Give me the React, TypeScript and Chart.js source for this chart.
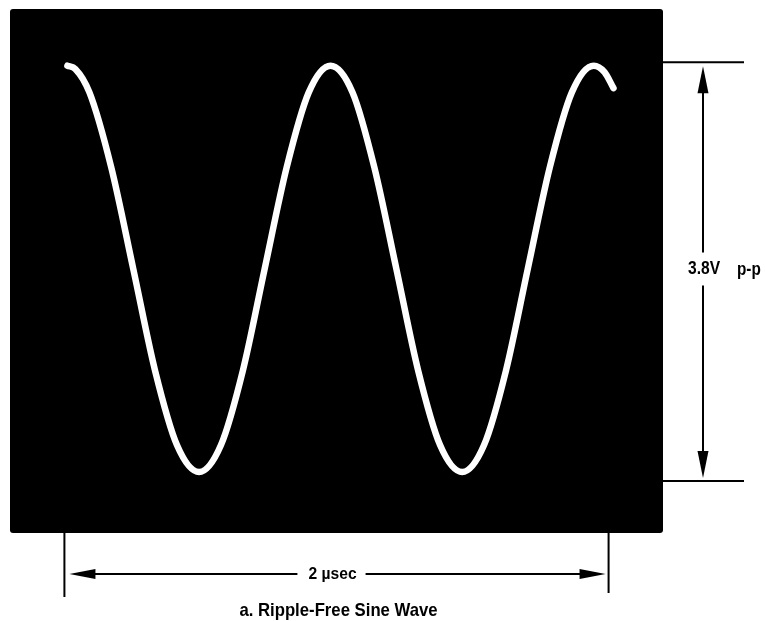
import { useEffect, useRef } from "react";
import { Chart, registerables } from "chart.js";

Chart.register(...registerables);

// Trace samples: time in µs, voltage in V
const timeUs = [
  0.011, 0.04, 0.092, 0.172, 0.253, 0.333, 0.414, 0.495, 0.575, 0.656, 0.736,
  0.817, 0.898, 0.978, 1.059, 1.139, 1.22, 1.3, 1.381, 1.462, 1.542,
  1.623, 1.703, 1.784, 1.865, 1.945, 1.985, 2.018,
];
const voltage = [
  1.9, 1.87, 1.65, 0.95, 0.0, -0.95, -1.65, -1.9, -1.65, -0.95, 0.0,
  0.95, 1.65, 1.9, 1.65, 0.95, 0.0, -0.95, -1.65, -1.9, -1.65,
  -0.95, 0.0, 0.95, 1.65, 1.9, 1.84, 1.69,
];

// Screen (graticule) range
const screenTime = [-0.2, 2.2];
const screenVolts = [-2.47, 2.43];

// Dimension annotations
const spanTime = [0, 2];
const spanLabel = "2 µsec";
const ppVolts = [1.9, -1.9];
const ppValue = "3.8V";
const ppUnit = "p-p";
const caption = "a. Ripple-Free Sine Wave";

const FONT_STACK = '"Liberation Sans", Arial, sans-serif';

function arrowHead(ctx: CanvasRenderingContext2D, tx: number, ty: number, dx: number, dy: number, len: number, hw: number) {
  const bx = tx - dx * len;
  const by = ty - dy * len;
  const px = -dy;
  const py = dx;
  ctx.beginPath();
  ctx.moveTo(tx, ty);
  ctx.lineTo(bx + px * hw, by + py * hw);
  ctx.lineTo(bx - px * hw, by - py * hw);
  ctx.closePath();
  ctx.fill();
}

function condensedText(
  ctx: CanvasRenderingContext2D,
  text: string,
  x: number,
  y: number,
  align: "left" | "center",
  factor: number
) {
  const w = ctx.measureText(text).width * factor;
  const startX = align === "center" ? x - w / 2 : x;
  ctx.save();
  ctx.translate(startX, y);
  ctx.scale(factor, 1);
  ctx.textAlign = "left";
  ctx.textBaseline = "middle";
  ctx.fillText(text, 0, 0);
  ctx.restore();
  return w;
}

const scopePlugin = {
  id: "scopeDecor",
  beforeDatasetsDraw(chart: any) {
    const { ctx, chartArea } = chart;
    const { left, top, right, bottom } = chartArea;
    ctx.save();
    ctx.fillStyle = "#000";
    ctx.beginPath();
    const r = 3;
    ctx.moveTo(left + r, top);
    ctx.lineTo(right - r, top);
    ctx.quadraticCurveTo(right, top, right, top + r);
    ctx.lineTo(right, bottom - r);
    ctx.quadraticCurveTo(right, bottom, right - r, bottom);
    ctx.lineTo(left + r, bottom);
    ctx.quadraticCurveTo(left, bottom, left, bottom - r);
    ctx.lineTo(left, top + r);
    ctx.quadraticCurveTo(left, top, left + r, top);
    ctx.closePath();
    ctx.fill();
    ctx.restore();
  },
  afterDraw(chart: any) {
    const { ctx, chartArea, scales } = chart;
    const xS = scales.x;
    const yS = scales.y;
    ctx.save();
    ctx.strokeStyle = "#000";
    ctx.fillStyle = "#000";
    ctx.lineWidth = 2;

    // ---- vertical (p-p) dimension ----
    const yTop = yS.getPixelForValue(ppVolts[0]) - 3.5;
    const yBot = yS.getPixelForValue(ppVolts[1]) + 9;
    const lineEnd = chartArea.right + 81;
    ctx.beginPath();
    ctx.moveTo(chartArea.right, yTop);
    ctx.lineTo(lineEnd, yTop);
    ctx.moveTo(chartArea.right, yBot);
    ctx.lineTo(lineEnd, yBot);
    ctx.stroke();

    const ax = chartArea.right + 40;
    const tipTop = yTop + 4;
    const tipBot = yBot - 3;
    const midY = (yTop + yBot) / 2 - 3;
    ctx.beginPath();
    ctx.moveTo(ax, tipTop + 10);
    ctx.lineTo(ax, midY - 16);
    ctx.moveTo(ax, midY + 17);
    ctx.lineTo(ax, tipBot - 10);
    ctx.stroke();
    arrowHead(ctx, ax, tipTop, 0, -1, 27, 5.5);
    arrowHead(ctx, ax, tipBot, 0, 1, 27, 5.5);

    ctx.font = "bold 19px " + FONT_STACK;
    condensedText(ctx, ppValue, ax + 1, midY, "center", 0.82);
    ctx.font = "bold 18px " + FONT_STACK;
    condensedText(ctx, ppUnit, ax + 34, midY + 1, "left", 0.85);

    // ---- horizontal (time) dimension ----
    const x0 = xS.getPixelForValue(spanTime[0]);
    const x1 = xS.getPixelForValue(spanTime[1]);
    const hy = chartArea.bottom + 41;
    ctx.beginPath();
    ctx.moveTo(x0, chartArea.bottom);
    ctx.lineTo(x0, chartArea.bottom + 64);
    ctx.moveTo(x1, chartArea.bottom);
    ctx.lineTo(x1, chartArea.bottom + 60);
    ctx.stroke();

    ctx.font = "bold 17px " + FONT_STACK;
    const tx = (x0 + x1) / 2 - 4;
    const tw = ctx.measureText(spanLabel).width * 0.92;
    const tipL = x0 + 5;
    const tipR = x1 - 3;
    ctx.beginPath();
    ctx.moveTo(tipL + 10, hy);
    ctx.lineTo(tx - tw / 2 - 11, hy);
    ctx.moveTo(tx + tw / 2 + 9, hy);
    ctx.lineTo(tipR - 10, hy);
    ctx.stroke();
    arrowHead(ctx, tipL, hy, -1, 0, 26, 5);
    arrowHead(ctx, tipR, hy, 1, 0, 26, 5);
    condensedText(ctx, spanLabel, tx, hy, "center", 0.92);

    // ---- caption ----
    ctx.font = "bold 19px " + FONT_STACK;
    condensedText(ctx, caption, (x0 + x1) / 2 + 2, chartArea.bottom + 78, "center", 0.88);

    ctx.restore();
  },
};

export default function App() {
  const canvasRef = useRef<HTMLCanvasElement | null>(null);

  useEffect(() => {
    const canvas = canvasRef.current;
    if (!canvas) return;
    const points = timeUs.map((t, i) => ({ x: t, y: voltage[i] }));
    const chart = new Chart(canvas, {
      type: "line",
      data: {
        datasets: [
          {
            label: "Sine",
            data: points,
            borderColor: "#ffffff",
            borderWidth: 6.5,
            borderCapStyle: "round",
            borderJoinStyle: "round",
            cubicInterpolationMode: "monotone",
            pointRadius: 0,
            fill: false,
          },
        ],
      },
      options: {
        responsive: true,
        maintainAspectRatio: false,
        animation: false,
        layout: { padding: { left: 10, top: 9, right: 103, bottom: 88 } },
        plugins: {
          legend: { display: false },
          tooltip: { enabled: false },
          title: { display: false },
        },
        scales: {
          x: { type: "linear", min: screenTime[0], max: screenTime[1], display: false },
          y: { type: "linear", min: screenVolts[0], max: screenVolts[1], display: false },
        },
      },
      plugins: [scopePlugin],
    });
    return () => chart.destroy();
  }, []);

  return (
    <div style={{ position: "absolute", left: 0, top: 0, width: 766, height: 621, background: "#fff" }}>
      <canvas ref={canvasRef} />
    </div>
  );
}
